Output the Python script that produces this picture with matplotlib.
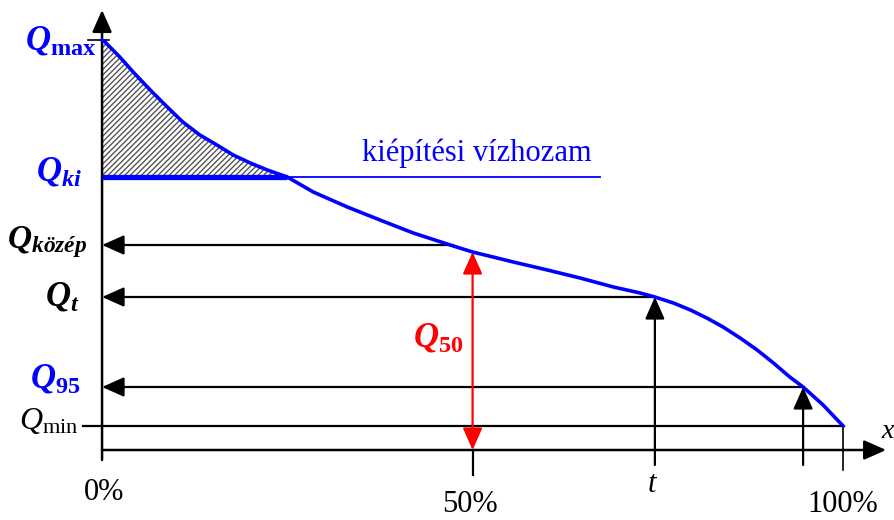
import matplotlib
matplotlib.use("Agg")
import matplotlib.pyplot as plt
import numpy as np

# duration curve: x = time share (%), q = flow (arbitrary units)
curve_x = [0, 0.4, 2.4, 4.2, 6.5, 8.8, 10.9, 13.2, 15.5, 17.7, 20.0, 22.3, 25.0,
           28.5, 33.1, 37.5, 42.0, 47.4, 50.0, 55.5, 60.1, 64.5, 69.0, 72.6, 74.6,
           77.1, 79.4, 81.6, 83.8, 86.1, 88.4, 90.6, 92.8, 94.6, 97.3, 100]
curve_q = [410, 408, 393, 378, 360, 343, 328, 315, 305, 295, 287, 280, 273,
           258, 243, 230, 217, 204, 198, 188, 180, 172, 163, 157, 153,
           147, 140, 132, 123, 112, 100, 87, 73, 63, 45, 24]

q_max = 410
q_ki = 273
x_ki = 25.0
q_kozep = 205
x_kozep = 47.4
q_t = 153
x_t = 74.6
q_95 = 63
x_95 = 94.6
q_min = 24
x_50 = 50.0
q_50 = 198

plt.rcParams["font.family"] = ["Liberation Serif", "DejaVu Serif"]
plt.rcParams["mathtext.fontset"] = "custom"
plt.rcParams["mathtext.rm"] = "Liberation Serif"
plt.rcParams["mathtext.it"] = "Liberation Serif:italic"
plt.rcParams["mathtext.bf"] = "Liberation Serif:bold"
plt.rcParams["mathtext.bfit"] = "Liberation Serif:bold:italic"
plt.rcParams["hatch.linewidth"] = 1.0

fig = plt.figure(figsize=(8.95, 5.2), dpi=100)
ax = fig.add_axes([0, 0, 1, 1])
ax.set_xlim(-13.77, 107.0)
ax.set_ylim(-70, 450)
ax.axis("off")

blue = "#0000ff"
black = "black"
red = "#ff0000"


def arrow(x0, y0, x1, y1, color=black, lw=1.6, both=False):
    style = "<|-|>" if both else "-|>"
    ax.annotate("", xy=(x1, y1), xytext=(x0, y0),
                arrowprops=dict(arrowstyle=style + ",head_length=0.9,head_width=0.4",
                                color=color, lw=lw, shrinkA=0, shrinkB=0,
                                mutation_scale=15))


# hatched area above the design flow
cx = np.array(curve_x)
cq = np.array(curve_q)
sel = cx <= x_ki
ax.fill_between(cx[sel], cq[sel], q_ki, facecolor="white", edgecolor="#555555",
                hatch="//////", linewidth=0, zorder=1)
ax.plot(cx[sel], cq[sel], color=black, lw=1.2, zorder=2)

# axes with arrows
arrow(0, -10, 0, 440, lw=1.8)
arrow(0, 0, 105.8, 0, lw=1.8)

# Qmax tick and Qmin line
ax.plot([-1.9, 1.0], [q_max, q_max], color=black, lw=1.2)
ax.plot([-2.6, 100], [q_min, q_min], color=black, lw=1.6)

# horizontal read-off arrows
arrow(x_kozep, q_kozep, 0, q_kozep)
arrow(x_t, q_t, 0, q_t)
arrow(x_95, q_95, 0, q_95)

# vertical arrows and ticks
arrow(x_t, -15, x_t, q_t)
arrow(x_95, -15, x_95, q_95)
ax.plot([100, 100], [q_min, -20], color=black, lw=1.2)
ax.plot([50, 50], [0, -25], color=black, lw=1.6)
arrow(x_50, 0, x_50, q_50, color=red, both=True)

# design flow line
ax.plot([0, x_ki], [q_ki, q_ki], color=blue, lw=3.8, solid_capstyle="butt", zorder=3)
ax.plot([x_ki, 67.2], [q_ki, q_ki], color=blue, lw=1.3, zorder=3)

# duration curve
ax.plot(curve_x, curve_q, color=blue, lw=2.6, zorder=4, solid_joinstyle="round")

# labels
ax.text(-5.6, q_max - 1, r"$\mathbfit{Q}_{\mathbf{max}}$", color=blue, fontsize=25,
        ha="center", va="center")
ax.text(-5.8, q_ki + 5, r"$\mathbfit{Q}_{\mathbfit{ki}}$", color=blue, fontsize=25,
        ha="center", va="center")
ax.text(-7.4, q_kozep + 3, r"$\mathbfit{Q}_{\mathbfit{közép}}$", color=black, fontsize=24,
        ha="center", va="center")
ax.text(-5.4, q_t, r"$\mathbfit{Q}_{\mathbfit{t}}$", color=black, fontsize=25,
        ha="center", va="center")
ax.text(-6.3, q_95 + 8, r"$\mathbfit{Q}_{\mathbf{95}}$", color=blue, fontsize=25,
        ha="center", va="center")
ax.text(-7.2, q_min + 5, r"$\mathit{Q}_{\mathrm{min}}$", color=black, fontsize=23,
        ha="center", va="center")
ax.text(45.4, 112, r"$\mathbfit{Q}_{\mathbf{50}}$", color=red, fontsize=25,
        ha="center", va="center")
ax.text(50.6, 297, "kiépítési vízhozam", color=blue, fontsize=22,
        ha="center", va="center")

ax.text(0.3, -43, "0%", fontsize=22, ha="center", va="center")
ax.text(49.7, -55, "50%", fontsize=22, ha="center", va="center")
ax.text(74.2, -35, "t", fontsize=22, style="italic", ha="center", va="center")
ax.text(100, -55, "100%", fontsize=22, ha="center", va="center")
ax.text(105.1, 18, "x", fontsize=20, style="italic", ha="left", va="center")

fig.savefig("out.png", dpi=100)
